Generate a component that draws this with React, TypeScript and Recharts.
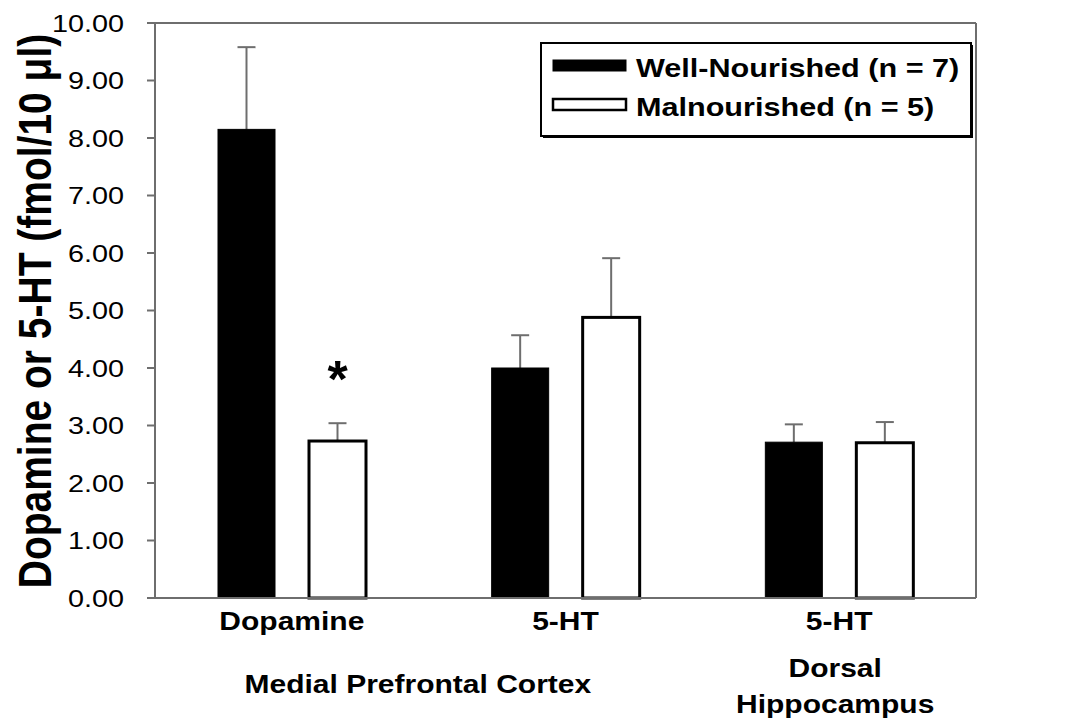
import { BarChart, Bar, XAxis, YAxis, Legend, ReferenceLine } from 'recharts';

// values (fmol / 10 ul), error bars are +SEM only
const regionIds = ['mPFC-DA', 'mPFC-5HT', 'DH-5HT'];
const tickLabels = ['Dopamine', '5-HT', '5-HT'];
const wellNourished = [8.15, 4.0, 2.71];
const wellNourishedSem = [1.43, 0.57, 0.31];
const malnourished = [2.73, 4.88, 2.7];
const malnourishedSem = [0.31, 1.03, 0.36];
const significance = ['*', '', ''];
const yTicks = [0, 1, 2, 3, 4, 5, 6, 7, 8, 9, 10];

const data = regionIds.map((id, i) => ({
  id,
  label: tickLabels[i],
  well: wellNourished[i],
  wellSem: wellNourishedSem[i],
  mal: malnourished[i],
  malSem: malnourishedSem[i],
  sig: significance[i],
}));

const FONT = '"Liberation Sans", Arial, Helvetica, sans-serif';
const SX = 1.2; // the original figure's text is stretched sideways
const AXIS = '#6e6e6e';

function makeBarShape(valueKey: string, semKey: string, fill: string) {
  return (props: any) => {
    const { x, y, width, height, payload } = props;
    const v = payload[valueKey];
    const perUnit = v ? height / v : 0;
    const cx = x + width / 2;
    const top = y - payload[semKey] * perUnit;
    return (
      <g>
        <line x1={cx} y1={y} x2={cx} y2={top} stroke={AXIS} strokeWidth={2} />
        <line x1={cx - 9} y1={top} x2={cx + 9} y2={top} stroke={AXIS} strokeWidth={2} />
        <rect x={x} y={y} width={width} height={height} fill={fill} stroke="#000" strokeWidth={fill === '#000' ? 1 : 3} />
        {valueKey === 'mal' && payload.sig ? (
          <text x={cx} y={top - 26} textAnchor="middle" fontFamily={FONT} fontWeight="bold" fontSize={52} fill="#000">
            {payload.sig}
          </text>
        ) : null}
      </g>
    );
  };
}

function YTick(props: any) {
  const { x, y, payload, textAnchor } = props;
  return (
    <g transform={`translate(${x},${y}) scale(${SX},1)`}>
      <text x={0} y={0} dy="0.36em" textAnchor={textAnchor} fontFamily={FONT} fontSize={24} fill="#000">
        {Number(payload.value).toFixed(2)}
      </text>
    </g>
  );
}

function boldText(x: number, y: number, s: string, size = 25) {
  return (
    <g transform={`translate(${x},${y}) scale(${SX},1)`}>
      <text x={0} y={0} textAnchor="middle" fontFamily={FONT} fontWeight="bold" fontSize={size} fill="#000">
        {s}
      </text>
    </g>
  );
}

function XTick(props: any) {
  const { x, y, index } = props;
  const base = y + 24;
  return (
    <g>
      {boldText(x, base, tickLabels[index])}
      {index === 0 ? boldText(x + 126, base + 63, 'Medial Prefrontal Cortex') : null}
      {index === 2 ? (
        <g>
          {boldText(x - 4, base + 47, 'Dorsal')}
          {boldText(x - 4, base + 83, 'Hippocampus')}
        </g>
      ) : null}
    </g>
  );
}

function YTitle() {
  return (
    <g transform={`translate(51,311) scale(${SX},1) rotate(-90)`}>
      <text x={0} y={0} textAnchor="middle" fontFamily={FONT} fontWeight="bold" fontSize={39} fill="#000">
        Dopamine or 5-HT (fmol/10 μl)
      </text>
    </g>
  );
}

function LegendBox() {
  const row = (y: number, fill: string, label: string) => (
    <g>
      <rect x={13} y={y} width={73} height={11} fill={fill} stroke="#000" strokeWidth={fill === '#000' ? 1 : 2.5} />
      <g transform={`translate(96,${y + 17}) scale(${SX},1)`}>
        <text x={0} y={0} fontFamily={FONT} fontWeight="bold" fontSize={25.5} fill="#000">
          {label}
        </text>
      </g>
    </g>
  );
  return (
    <svg width={436} height={98} style={{ display: 'block' }}>
      <rect x={3} y={3} width={430} height={93} fill="#000" />
      <rect x={1} y={1} width={430} height={93} fill="#fff" stroke="#000" strokeWidth={2} />
      {row(18, '#000', 'Well-Nourished (n = 7)')}
      {row(57, '#fff', 'Malnourished (n = 5)')}
    </svg>
  );
}

export default function App() {
  return (
    <div style={{ position: 'absolute', left: 0, top: 0, width: 1068, height: 719, background: '#fff' }}>
      <BarChart
        width={1068}
        height={719}
        data={data}
        margin={{ top: 23, right: 0, bottom: 0, left: 0 }}
        barSize={57}
        barGap={34}
      >
        <XAxis
          dataKey="id"
          height={121}
          tickLine={false}
          axisLine={{ stroke: AXIS, strokeWidth: 2 }}
          tick={<XTick />}
          interval={0}
        />
        <YAxis
          yAxisId="left"
          width={155}
          domain={[0, 10]}
          ticks={yTicks}
          interval={0}
          tickSize={8}
          tickMargin={23}
          tickLine={{ stroke: AXIS, strokeWidth: 2 }}
          axisLine={{ stroke: AXIS, strokeWidth: 2 }}
          tick={<YTick />}
          label={<YTitle />}
        />
        <YAxis
          yAxisId="right"
          orientation="right"
          width={92}
          domain={[0, 10]}
          ticks={yTicks}
          interval={0}
          tickSize={8}
          tickMargin={14}
          tickLine={{ stroke: AXIS, strokeWidth: 2 }}
          axisLine={{ stroke: AXIS, strokeWidth: 2 }}
          tick={<YTick />}
        />
        <ReferenceLine yAxisId="left" y={10} stroke={AXIS} strokeWidth={2} />
        <Legend
          layout="horizontal"
          verticalAlign="middle"
          align="center"
          wrapperStyle={{ position: 'absolute', left: 540, top: 42, width: 436, height: 98 }}
          content={() => <LegendBox />}
        />
        <Bar
          yAxisId="left"
          dataKey="well"
          name="Well-Nourished (n = 7)"
          fill="#000"
          shape={makeBarShape('well', 'wellSem', '#000')}
          isAnimationActive={false}
        />
        <Bar
          yAxisId="left"
          dataKey="mal"
          name="Malnourished (n = 5)"
          fill="#fff"
          shape={makeBarShape('mal', 'malSem', '#fff')}
          isAnimationActive={false}
        />
      </BarChart>
    </div>
  );
}
